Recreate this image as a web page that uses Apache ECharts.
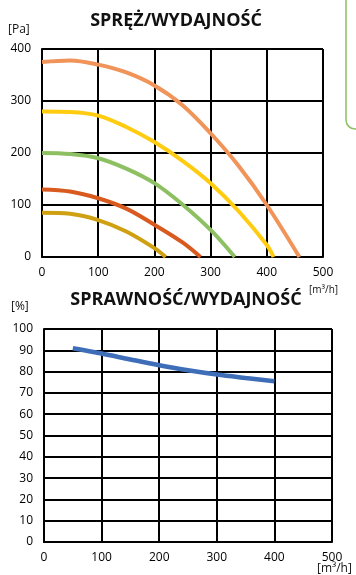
<!DOCTYPE html>
<html><head><meta charset="utf-8">
<script src="https://cdn.jsdelivr.net/npm/echarts@6/dist/echarts.min.js"></script>
<style>html,body{margin:0;padding:0;background:#fff}#c{width:356px;height:575px}</style>
</head><body><div id="c"></div>
<script>
// Pressure curves [flow m3/h, pressure Pa]
const pressOrange = [[0,375],[50,378],[100,370],[150,355],[200,330],[250,292],[300,238],[350,175],[400,100],[458,0]];
const pressYellow = [[0,280],[50,279],[100,272],[150,250],[200,221],[250,185],[300,142],[350,88],[400,23],[412,0]];
const pressGreen = [[0,200],[50,198],[100,190],[150,170],[200,142],[250,101],[300,52],[343,0]];
const pressRed = [[0,130],[50,126],[100,113],[150,93],[200,62],[250,28],[282,0]];
const pressGold = [[0,85],[50,83],[100,71],[150,49],[200,17],[220,0]];
// Efficiency curve [flow m3/h, %]
const efficiency = [[50,91],[100,88.5],[150,85.7],[200,83],[250,80.6],[300,78.6],[350,77],[400,75.5]];

const titles = ['SPRĘŻ/WYDAJNOŚĆ','SPRAWNOŚĆ/WYDAJNOŚĆ'];
const units = {pressure:'[Pa]', efficiency:'[%]', flow:'[m³/h]'};

const FONT = '"Open Sans", sans-serif';
const axisLab = {color:'#000', fontSize:12, fontFamily:FONT};
const gridLine = {show:true, lineStyle:{color:'#000', width:2}};
function xAx(gi){return {type:'value', gridIndex:gi, min:0, max:500, interval:100,
  axisLine:{show:true, lineStyle:{color:'#000', width:2}}, axisTick:{show:false},
  splitLine:gridLine, axisLabel:Object.assign({margin:10}, axisLab)};}
function yAx(gi, max, interval){return {type:'value', gridIndex:gi, min:0, max:max, interval:interval,
  axisLine:{show:true, lineStyle:{color:'#000', width:2}}, axisTick:{show:false},
  splitLine:gridLine, axisLabel:Object.assign({margin:11}, axisLab)};}
function line(data, color, gi, w){return {type:'line', xAxisIndex:gi, yAxisIndex:gi, data:data, smooth:0.35,
  showSymbol:false, lineStyle:{color:color, width:w}, itemStyle:{color:color}, z:5};}

const chart = echarts.init(document.getElementById('c'));
chart.setOption({
  animation:false,
  grid:[{left:42, top:49, width:281, height:208},{left:44, top:329, width:288, height:213}],
  xAxis:[xAx(0), xAx(1)],
  yAxis:[yAx(0,400,100), yAx(1,100,10)],
  series:[
    line(pressOrange,'#F0945A',0,4),
    line(pressYellow,'#FFCC11',0,4),
    line(pressGreen,'#8DC063',0,4),
    line(pressRed,'#D85A1E',0,4),
    line(pressGold,'#CFA012',0,4),
    line(efficiency,'#3F6EB8',1,4.5)
  ],
  graphic:[
    {type:'text', x:176, y:21, style:{text:titles[0], font:'bold 18px '+FONT, fill:'#111', align:'center', verticalAlign:'middle'}},
    {type:'text', x:186, y:300, style:{text:titles[1], font:'bold 18px '+FONT, fill:'#111', align:'center', verticalAlign:'middle'}},
    {type:'text', x:8, y:24, style:{text:units.pressure, font:'12px '+FONT, fill:'#111'}},
    {type:'text', x:11, y:301, style:{text:units.efficiency, font:'12px '+FONT, fill:'#111'}},
    {type:'text', x:309, y:285, style:{text:units.flow, font:'10px '+FONT, fill:'#111'}},
    {type:'text', x:317, y:563, style:{text:units.flow, font:'12px '+FONT, fill:'#111'}},
    {type:'rect', shape:{x:346, y:-12, width:30, height:141, r:9}, style:{fill:'none', stroke:'#8CC063', lineWidth:1.5}}
  ]
});
</script></body></html>
